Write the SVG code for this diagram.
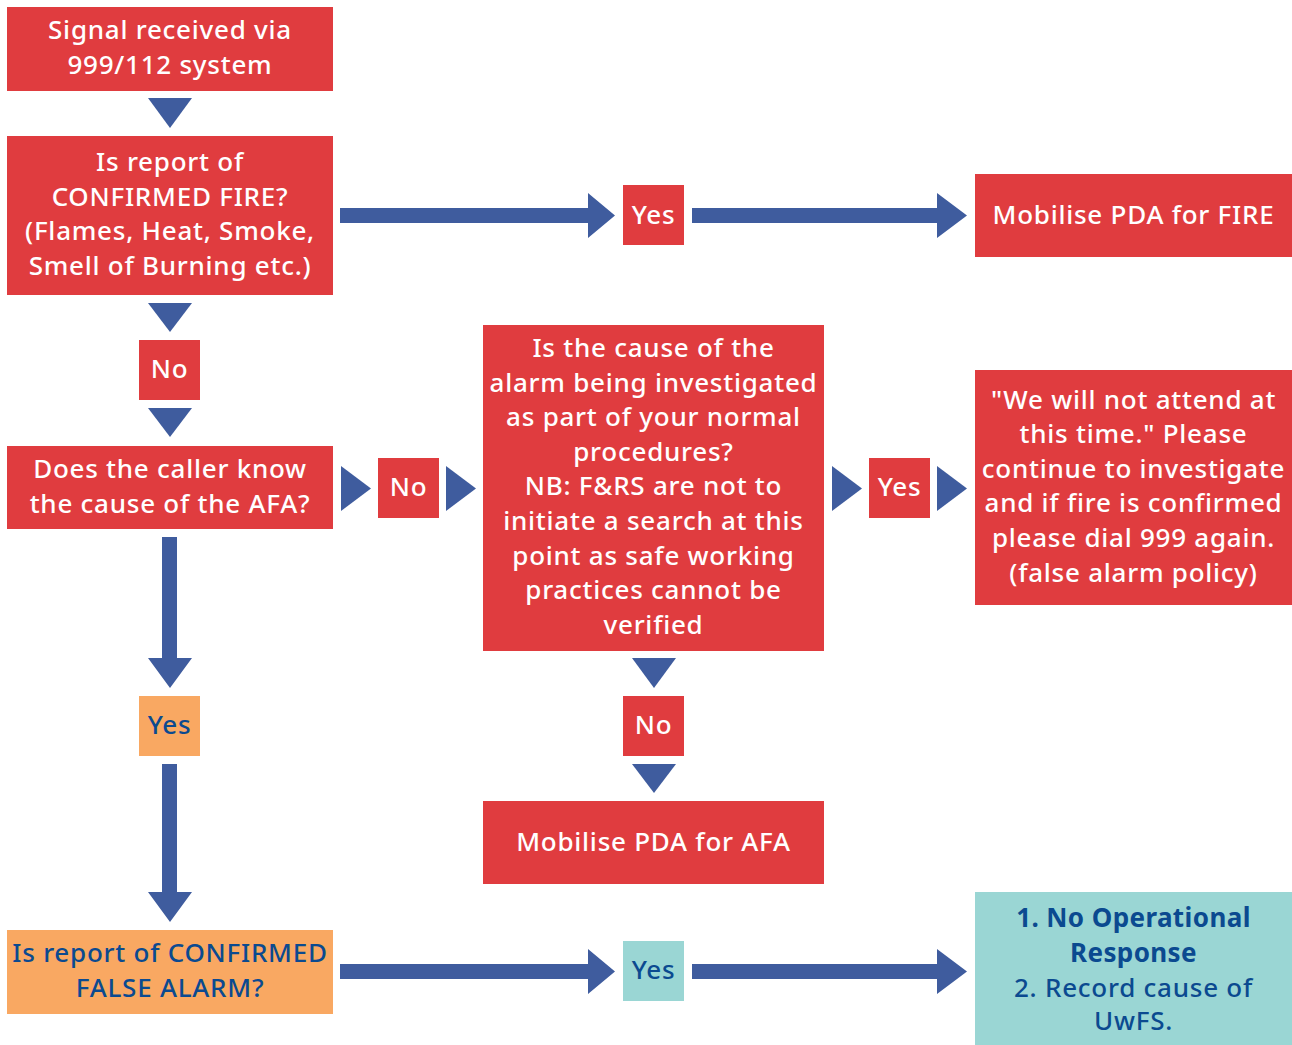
<svg xmlns="http://www.w3.org/2000/svg" width="1292" height="1045" viewBox="0 0 1292 1045">
<style>
.red{fill:#E03C3F}
.org{fill:#F9A862}
.teal{fill:#9AD6D4}
.arr{fill:#3F5C9E}
text{font-family:"Noto Sans","Open Sans","DejaVu Sans",sans-serif;font-size:26px;letter-spacing:0.75px;font-weight:500;text-anchor:middle}
.w{fill:#FFFFFF}
.b{fill:#0B4A90}
.bold{font-weight:bold;letter-spacing:0.4px}
</style>
<rect width="1292" height="1045" fill="#FFFFFF"/>
<g id="connectors">
<polygon class="arr" points="148,98 192,98 170,128"/>
<polygon class="arr" points="340,208 588,208 588,193 615,215.5 588,238 588,223 340,223"/>
<polygon class="arr" points="692,208 937,208 937,193 967,215.5 937,238 937,223 692,223"/>
<polygon class="arr" points="148,303 192,303 170,332"/>
<polygon class="arr" points="148,408 192,408 170,437"/>
<polygon class="arr" points="341,466 371,488.5 341,511"/>
<polygon class="arr" points="446,466 476,488.5 446,511"/>
<polygon class="arr" points="832,466 862,488.5 832,511"/>
<polygon class="arr" points="937,466 967,488.5 937,511"/>
<polygon class="arr" points="162,537 177,537 177,658 192,658 170,688 148,658 162,658"/>
<polygon class="arr" points="162,764 177,764 177,892 192,892 170,922 148,892 162,892"/>
<polygon class="arr" points="632,658 676,658 654,688"/>
<polygon class="arr" points="632,764 676,764 654,793"/>
<polygon class="arr" points="340,964 588,964 588,949 615,971.5 588,994 588,979 340,979"/>
<polygon class="arr" points="692,964 937,964 937,949 967,971.5 937,994 937,979 692,979"/>
</g>
<g id="n1"><rect class="red" x="7" y="7" width="326" height="84"/>
<text class="w" x="170" y="39">Signal received via</text><text class="w" x="170" y="74">999/112 system</text></g>
<g id="n2"><rect class="red" x="7" y="136" width="326" height="159"/>
<text class="w" x="170" y="171">Is report of</text><text class="w" x="170" y="206">CONFIRMED FIRE?</text><text class="w" x="170" y="240">(Flames, Heat, Smoke,</text><text class="w" x="170" y="275">Smell of Burning etc.)</text></g>
<g id="yes1"><rect class="red" x="623" y="185" width="61" height="60"/><text class="w" x="653.5" y="224">Yes</text></g>
<g id="n3"><rect class="red" x="975" y="174" width="317" height="83"/><text class="w" x="1133.5" y="224">Mobilise PDA for FIRE</text></g>
<g id="no1"><rect class="red" x="139" y="340" width="61" height="60"/><text class="w" x="169.5" y="378">No</text></g>
<g id="n4"><rect class="red" x="7" y="446" width="326" height="83"/>
<text class="w" x="170" y="478">Does the caller know</text><text class="w" x="170" y="513">the cause of the AFA?</text></g>
<g id="no2"><rect class="red" x="378" y="458" width="61" height="60"/><text class="w" x="408.5" y="496">No</text></g>
<g id="n5"><rect class="red" x="483" y="325" width="341" height="326"/>
<text class="w" x="653.5" y="357">Is the cause of the</text>
<text class="w" x="653.5" y="392">alarm being investigated</text>
<text class="w" x="653.5" y="426">as part of your normal</text>
<text class="w" x="653.5" y="461">procedures?</text>
<text class="w" x="653.5" y="495">NB: F&amp;RS are not to</text>
<text class="w" x="653.5" y="530">initiate a search at this</text>
<text class="w" x="653.5" y="565">point as safe working</text>
<text class="w" x="653.5" y="599">practices cannot be</text>
<text class="w" x="653.5" y="634">verified</text></g>
<g id="yes2"><rect class="red" x="869" y="458" width="61" height="60"/><text class="w" x="899.5" y="496">Yes</text></g>
<g id="n6"><rect class="red" x="975" y="370" width="317" height="235"/>
<text class="w" x="1133.5" y="409">"We will not attend at</text>
<text class="w" x="1133.5" y="443">this time." Please</text>
<text class="w" x="1133.5" y="478">continue to investigate</text>
<text class="w" x="1133.5" y="512">and if fire is confirmed</text>
<text class="w" x="1133.5" y="547">please dial 999 again.</text>
<text class="w" x="1133.5" y="582">(false alarm policy)</text></g>
<g id="yes3"><rect class="org" x="139" y="696" width="61" height="60"/><text class="b" x="169.5" y="734">Yes</text></g>
<g id="no3"><rect class="red" x="623" y="696" width="61" height="60"/><text class="w" x="653.5" y="734">No</text></g>
<g id="n7"><rect class="red" x="483" y="801" width="341" height="83"/><text class="w" x="653.5" y="851">Mobilise PDA for AFA</text></g>
<g id="n8"><rect class="org" x="7" y="930" width="326" height="84"/>
<text class="b" x="170" y="962">Is report of CONFIRMED</text><text class="b" x="170" y="997">FALSE ALARM?</text></g>
<g id="yes4"><rect class="teal" x="623" y="941" width="61" height="60"/><text class="b" x="653.5" y="979">Yes</text></g>
<g id="n9"><rect class="teal" x="975" y="892" width="317" height="153"/>
<text class="b bold" x="1133.5" y="927">1. No Operational</text>
<text class="b bold" x="1133.5" y="962">Response</text>
<text class="b" x="1133.5" y="997">2. Record cause of</text>
<text class="b" x="1133.5" y="1030">UwFS.</text></g>
</svg>
